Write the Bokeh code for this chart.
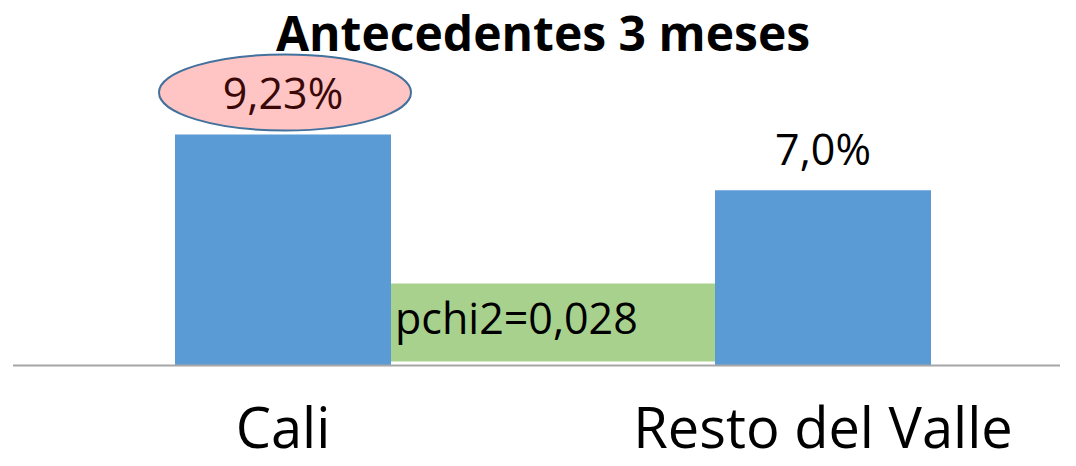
from bokeh.plotting import figure
from bokeh.models import ColumnDataSource, Range1d, Label
from bokeh.core.properties import value
from bokeh.embed import file_html
from bokeh.resources import INLINE

# ---- data ----
categories = ["Cali", "Resto del Valle"]
percent = [9.23, 7.0]
percent_labels = ["9,23%", "7,0%"]
pchi2_label = "pchi2=0,028"
title_text = "Antecedentes 3 meses"

# ---- layout constants ----
W, H = 1060, 450
k = 231 / 9.23            # px per percent unit
base_px = 365             # baseline position from top of plot
x0_px, dx_px = 282.5, 540.0
bar_w = 0.4
corr = 18                 # text baseline correction (px)

xs = list(range(len(categories)))
src = ColumnDataSource(dict(x=xs, top=percent, lab=percent_labels, cat=categories))

p = figure(width=W, height=H, output_backend="svg", toolbar_location=None,
           min_border=0, outline_line_color=None,
           x_range=Range1d(-x0_px / dx_px, (W - x0_px) / dx_px),
           y_range=Range1d(-(H - base_px) / k, base_px / k))
p.axis.visible = False
p.grid.visible = False
p.background_fill_color = "white"
p.border_fill_color = "white"

FONT = "Open Sans"

# bars
p.vbar(x="x", top="top", bottom=0, width=bar_w, source=src,
       fill_color="#5B9BD5", line_color=None)

# baseline
p.segment(x0=[-0.5], y0=[0], x1=[1.6], y1=[0], line_color="#A6A6A6", line_width=2)

# green p-value box between bars
p.quad(left=[xs[0] + bar_w / 2], right=[xs[1] - bar_w / 2], bottom=[4 / k], top=[82 / k],
       fill_color="#A9D18E", line_color=None)
p.text(x=[xs[0] + bar_w / 2], y=[(30 + corr) / k], text=[pchi2_label], x_offset=4,
       text_font=value(FONT), text_font_size=value("43px"), text_color="black",
       text_align="left", text_baseline="alphabetic")

# ellipse highlight around Cali value
p.ellipse(x=[xs[0] + 2 / dx_px], y=[percent[0] + 42 / k], width=252, height=76,
          width_units="screen", height_units="screen",
          fill_color="#FFC5C5", line_color="#41719C", line_width=2)

# value labels
p.text(x=xs, y=[v + (24 + corr) / k for v in percent], text=percent_labels,
       text_font=value(FONT), text_font_size=value("43px"),
       text_color=["#3B0808", "black"], text_align="center", text_baseline="alphabetic")

# category labels
p.text(x=xs, y=[(-78 + corr) / k] * 2, text=categories,
       text_font=value(FONT), text_font_size=value("56px"), text_color="black",
       text_align="center", text_baseline="alphabetic")

# title
p.add_layout(Label(x=542.5, y=H - 50 + corr, x_units="screen", y_units="screen",
                   text=title_text, text_font=FONT, text_font_style="bold",
                   text_font_size="48px", text_color="black",
                   text_align="center", text_baseline="alphabetic"))

open("out.html", "w").write(file_html(p, INLINE))
